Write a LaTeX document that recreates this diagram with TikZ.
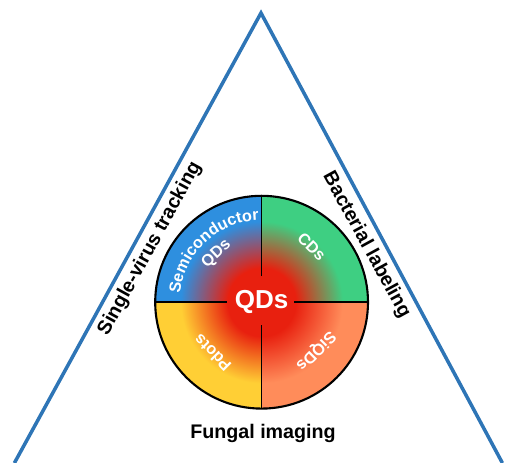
\documentclass[tikz,border=0pt]{standalone}
\usepackage{fontspec}
\setmainfont{Liberation Sans}
\usetikzlibrary{decorations.text}
\definecolor{QDTri}{HTML}{2E75B6}
\definecolor{QDBlue}{HTML}{2E8FDF}
\definecolor{QDGreen}{HTML}{3ECF82}
\definecolor{QDYellow}{HTML}{FFCF35}
\definecolor{QDOrange}{HTML}{FF8C5A}
\definecolor{QDRed}{HTML}{E8200F}
\pgfdeclareradialshading{glowblue}{\pgfpointorigin}{color(0bp)=(QDRed); color(8bp)=(QDRed); color(19bp)=(QDBlue); color(50bp)=(QDBlue)}
\pgfdeclareradialshading{glowgreen}{\pgfpointorigin}{color(0bp)=(QDRed); color(8bp)=(QDRed); color(19bp)=(QDGreen); color(50bp)=(QDGreen)}
\pgfdeclareradialshading{gloworange}{\pgfpointorigin}{color(0bp)=(QDRed); color(8bp)=(QDRed); color(19bp)=(QDOrange); color(50bp)=(QDOrange)}
\pgfdeclareradialshading{glowyellow}{\pgfpointorigin}{color(0bp)=(QDRed); color(8bp)=(QDRed); color(19bp)=(QDYellow); color(50bp)=(QDYellow)}

\begin{document}
\begin{tikzpicture}[x=1cm,y=1cm,
  side/.style={font=\bfseries\fontsize{14}{16}\selectfont},
  part/.style={text=white,font=\bfseries\fontsize{11.5}{13}\selectfont}]
\path[use as bounding box] (0,0) rectangle (12.70,11.575);
\coordinate (top) at (6.525,11.25);
\coordinate (left) at (0.36,0);
\coordinate (right) at (12.56,0);
\coordinate (c) at (6.54,4.02);
\draw[QDTri,line width=2.5pt] (left) -- (top) -- (right);
% four kinds of dots, red glow in the middle
\foreach \a/\sh in {90/glowblue,0/glowgreen,-90/gloworange,180/glowyellow} {
  \begin{scope}
    \clip (c) -- ++(\a:2.66) arc[start angle=\a,end angle=\a+90,radius=2.66] -- cycle;
    \shade[shading=\sh] (c) circle (2.66);
  \end{scope}
}
\draw[line width=1.1pt] (c) ++(-2.66,0) -- ++(1.8,0) (c) ++(0.82,0) -- ++(1.84,0);
\draw[line width=1.1pt] (c) ++(0,-2.66) -- ++(0,2.1) (c) ++(0,0.65) -- ++(0,2.01);
\draw[line width=1.5pt] (c) circle (2.66);
\node[part,font=\bfseries\fontsize{18.5}{20}\selectfont] (qds) at (c) {QDs};
\path[decorate,decoration={text along path,text align=center,text color=white,
  text={|\bfseries\fontsize{11.5}{13}\selectfont|Semiconductor}}]
  (c) ++(185:2.05) arc[start angle=185,end angle=81,radius=2.05];
\node[part,rotate=43] (semi) at ([shift={(133:1.65)}]c) {QDs};
\node[part,rotate=-45] (cds) at ([shift={(48:1.87)}]c) {CDs};
\node[part,rotate=135] (pdots) at ([shift={(226:1.77)}]c) {Pdots};
\node[part,rotate=-135] (siqds) at ([shift={(-42:1.82)}]c) {SiQDs};
% applications
\node[side,rotate=61.3] (virus) at (3.75,5.36) {Single-virus tracking};
\node[side,rotate=-61.3] (bact) at (9.16,5.45) {Bacterial labeling};
\node[side] (fungi) at (6.575,0.75) {Fungal imaging};
\end{tikzpicture}
\end{document}
